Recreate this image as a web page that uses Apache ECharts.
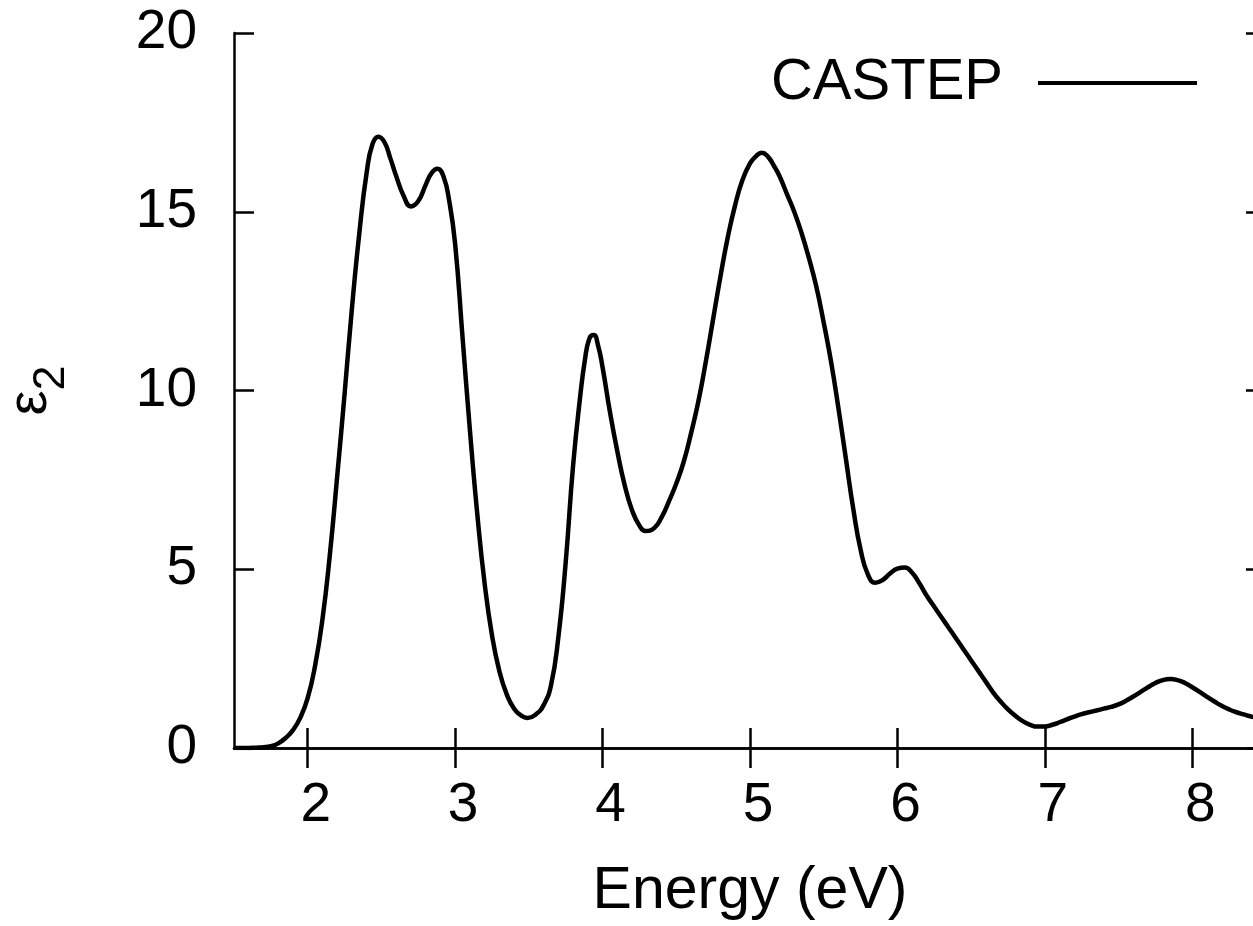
<!DOCTYPE html>
<html>
<head>
<meta charset="utf-8">
<title>CASTEP ε2</title>
<script src="https://cdn.jsdelivr.net/npm/echarts@6/dist/echarts.min.js"></script>
<style>
  html, body { margin: 0; padding: 0; background: #fff; }
  #chart { width: 1253px; height: 926px; }
</style>
</head>
<body>
<div id="chart"></div>
<script>
// Imaginary part of the dielectric function (ε2) from a CASTEP run
const energy = [
  1.50, 1.55, 1.60, 1.65, 1.70, 1.75, 1.80, 1.85, 1.90, 1.95,
  2.00, 2.05, 2.10, 2.15, 2.20, 2.25, 2.30, 2.35, 2.40, 2.44,
  2.48, 2.52, 2.56, 2.60, 2.65, 2.70, 2.75, 2.80, 2.84, 2.88,
  2.92, 2.96, 3.00, 3.05, 3.10, 3.15, 3.20, 3.25, 3.30, 3.35,
  3.40, 3.45, 3.49, 3.55, 3.60, 3.65, 3.70, 3.75, 3.80, 3.85,
  3.88, 3.91, 3.94, 3.97, 4.00, 4.05, 4.10, 4.15, 4.20, 4.25,
  4.29, 4.35, 4.40, 4.45, 4.50, 4.55, 4.60, 4.65, 4.70, 4.75,
  4.80, 4.85, 4.90, 4.95, 5.00, 5.04, 5.08, 5.12, 5.16, 5.20,
  5.25, 5.30, 5.35, 5.40, 5.45, 5.50, 5.55, 5.60, 5.65, 5.70,
  5.75, 5.80, 5.85, 5.90, 5.95, 6.00, 6.05, 6.10, 6.15, 6.20,
  6.25, 6.30, 6.35, 6.40, 6.45, 6.50, 6.55, 6.60, 6.65, 6.70,
  6.75, 6.80, 6.85, 6.90, 6.95, 7.00, 7.05, 7.10, 7.15, 7.20,
  7.25, 7.30, 7.35, 7.40, 7.45, 7.50, 7.55, 7.60, 7.65, 7.70,
  7.75, 7.80, 7.85, 7.90, 7.95, 8.00, 8.05, 8.10, 8.15, 8.20,
  8.25, 8.30, 8.35, 8.40, 8.45, 8.50
];
const eps2 = [
  0.00, 0.00, 0.00, 0.01, 0.02, 0.05, 0.13, 0.28, 0.50, 0.85,
  1.40, 2.30, 3.60, 5.40, 7.60, 9.90, 12.3, 14.4, 16.1, 16.9,
  17.1, 16.95, 16.5, 16.0, 15.45, 15.15, 15.3, 15.75, 16.08, 16.2,
  16.0, 15.3, 14.1, 11.5, 8.90, 6.55, 4.60, 3.15, 2.15, 1.50,
  1.10, 0.90, 0.84, 0.95, 1.20, 1.75, 3.10, 5.20, 7.90, 9.90,
  10.85, 11.45, 11.55, 11.25, 10.65, 9.40, 8.30, 7.35, 6.65, 6.22,
  6.07, 6.15, 6.45, 6.90, 7.40, 8.00, 8.80, 9.70, 10.8, 12.0,
  13.2, 14.3, 15.2, 15.9, 16.35, 16.55, 16.65, 16.55, 16.3, 16.0,
  15.5, 15.0, 14.4, 13.7, 12.9, 11.9, 10.8, 9.50, 8.10, 6.70,
  5.55, 4.85, 4.62, 4.70, 4.88, 5.02, 5.05, 4.90, 4.60, 4.25,
  3.95, 3.65, 3.35, 3.05, 2.75, 2.45, 2.15, 1.85, 1.55, 1.30,
  1.08, 0.90, 0.75, 0.65, 0.60, 0.60, 0.65, 0.72, 0.80, 0.88,
  0.95, 1.00, 1.05, 1.10, 1.15, 1.22, 1.32, 1.44, 1.57, 1.70,
  1.82, 1.90, 1.93, 1.90, 1.82, 1.70, 1.57, 1.43, 1.30, 1.18,
  1.08, 1.00, 0.94, 0.88, 0.83, 0.79
];
const xTicks = [2, 3, 4, 5, 6, 7, 8];
const yTicks = [0, 5, 10, 15, 20];
const seriesName = 'CASTEP';

const FONT = '"Liberation Sans", Arial, Helvetica, sans-serif';
const points = energy.map((e, i) => [e, eps2[i]]);

const axisLine = { show: true, lineStyle: { color: '#000', width: 2.5 } };
const tickStyle = { color: '#000', width: 2.5 };

const chart = echarts.init(document.getElementById('chart'), null, { renderer: 'canvas' });
chart.setOption({
  backgroundColor: '#fff',
  animation: false,
  // the frame runs a little past the right edge of the canvas
  grid: {
    left: 234, top: 33, width: 1032, height: 715,
    containLabel: false, outerBoundsMode: 'none'
  },
  legend: {
    data: [seriesName],
    right: 56,
    top: 54,
    align: 'right',
    padding: 0,
    icon: 'rect',
    itemWidth: 159,
    itemHeight: 4,
    itemStyle: { color: '#000' },
    textStyle: {
      fontFamily: FONT, fontSize: 58, color: '#000', lineHeight: 56,
      padding: [0, 30, 0, 0]
    }
  },
  xAxis: [
    {
      type: 'value', position: 'bottom', min: 1.5, max: 8.5,
      name: 'Energy (eV)', nameLocation: 'middle', nameGap: 114,
      nameTextStyle: { fontFamily: FONT, fontSize: 59, color: '#000' },
      axisLine: axisLine,
      axisTick: { show: true, inside: true, length: 20, lineStyle: tickStyle, customValues: xTicks },
      axisLabel: {
        fontFamily: FONT, fontSize: 55, color: '#000', margin: 30,
        padding: [0, 0, 0, 16], customValues: xTicks
      },
      splitLine: { show: false }
    },
    {
      type: 'value', position: 'top', min: 1.5, max: 8.5,
      axisLine: axisLine,
      axisTick: { show: true, inside: true, length: 20, lineStyle: tickStyle, customValues: xTicks },
      axisLabel: { show: false },
      splitLine: { show: false }
    }
  ],
  yAxis: [
    {
      type: 'value', position: 'left', min: 0, max: 20, interval: 5,
      name: '{e|ε}{s|2}', nameLocation: 'middle', nameRotate: 90, nameGap: 171,
      nameTextStyle: {
        fontFamily: FONT, color: '#000',
        rich: {
          e: { fontFamily: FONT, fontSize: 56, lineHeight: 60, verticalAlign: 'top', color: '#000' },
          s: { fontFamily: FONT, fontSize: 45, lineHeight: 45, verticalAlign: 'top', padding: [26, 0, 0, 0], color: '#000' }
        }
      },
      axisLine: axisLine,
      axisTick: { show: true, inside: true, length: 20, lineStyle: tickStyle },
      axisLabel: {
        fontFamily: FONT, fontSize: 55, color: '#000', margin: 37,
        formatter: v => (yTicks.indexOf(v) >= 0 ? String(v) : '')
      },
      splitLine: { show: false }
    },
    {
      type: 'value', position: 'right', min: 0, max: 20, interval: 5,
      axisLine: axisLine,
      axisTick: { show: true, inside: true, length: 20, lineStyle: tickStyle },
      axisLabel: { show: false },
      splitLine: { show: false }
    }
  ],
  series: [
    {
      name: seriesName,
      type: 'line',
      xAxisIndex: 0,
      yAxisIndex: 0,
      data: points,
      smooth: 0.5,
      symbol: 'none',
      showSymbol: false,
      clip: true,
      lineStyle: { color: '#000', width: 4.5 },
      itemStyle: { color: '#000' }
    }
  ]
});
</script>
</body>
</html>
